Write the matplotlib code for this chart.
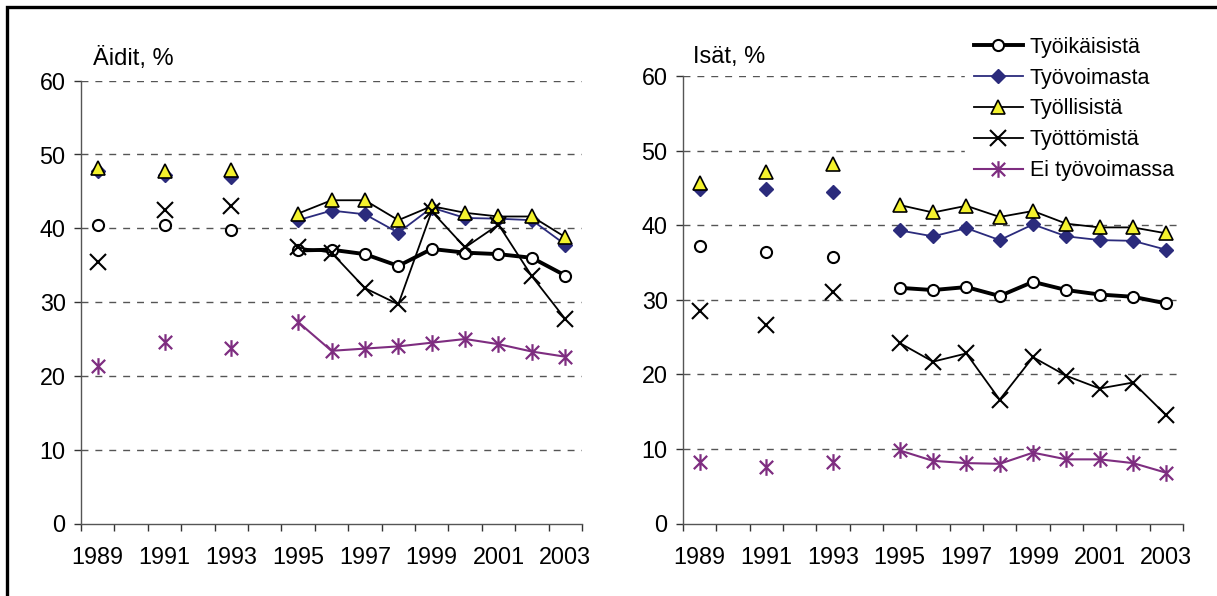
import numpy as np
import matplotlib
matplotlib.use('Agg')
import matplotlib.pyplot as plt
from matplotlib.path import Path
from matplotlib.patches import Rectangle

plt.rcParams['font.family'] = ['Liberation Sans', 'DejaVu Sans']

# categories 1989..2003, years without data are NaN
years = list(range(1989, 2004))
tick_years = [str(y) for y in range(1989, 2004, 2)]
nan = np.nan

series_names = ['Työikäisistä', 'Työvoimasta', 'Työllisistä', 'Työttömistä', 'Ei työvoimassa']

# Äidit (mothers), %
mothers_tyoikaisista = [40.5, nan, 40.4, nan, 39.8, nan, 37.0, 37.1, 36.5, 34.9, 37.2, 36.7, 36.5, 36.0, 33.6]
mothers_tyovoimasta = [47.8, nan, 47.2, nan, 47.0, nan, 41.1, 42.4, 41.9, 39.4, 42.8, 41.4, 41.3, 41.1, 37.8]
mothers_tyollisista = [48.2, nan, 47.7, nan, 47.9, nan, 42.0, 43.8, 43.8, 41.1, 43.0, 42.1, 41.6, 41.6, 38.8]
mothers_tyottomista = [35.4, nan, 42.5, nan, 43.0, nan, 37.4, 36.7, 31.9, 29.7, 42.3, 37.4, 40.5, 33.5, 27.7]
mothers_ei_tyovoimassa = [21.3, nan, 24.6, nan, 23.8, nan, 27.3, 23.4, 23.7, 24.0, 24.5, 25.0, 24.3, 23.3, 22.6]

# Isät (fathers), %
fathers_tyoikaisista = [37.2, nan, 36.4, nan, 35.7, nan, 31.6, 31.3, 31.7, 30.5, 32.4, 31.3, 30.7, 30.4, 29.5]
fathers_tyovoimasta = [44.8, nan, 44.9, nan, 44.4, nan, 39.3, 38.5, 39.6, 38.0, 40.1, 38.5, 38.0, 37.9, 36.7]
fathers_tyollisista = [45.6, nan, 47.1, nan, 48.2, nan, 42.7, 41.7, 42.6, 41.1, 41.9, 40.2, 39.7, 39.7, 38.9]
fathers_tyottomista = [28.5, nan, 26.6, nan, 31.0, nan, 24.2, 21.7, 22.8, 16.6, 22.3, 19.8, 18.1, 18.9, 14.5]
fathers_ei_tyovoimassa = [8.3, nan, 7.6, nan, 8.2, nan, 9.8, 8.4, 8.1, 8.0, 9.5, 8.6, 8.6, 8.1, 6.8]

NAVY = '#2B2B7C'
PURPLE = '#7E2D80'
YELLOW = '#F4F22E'

# asterisk marker as drawn by Excel: an X plus a vertical bar
star = Path([(-1, -1), (1, 1), (-1, 1), (1, -1), (0, -1.25), (0, 1.25)],
            [Path.MOVETO, Path.LINETO, Path.MOVETO, Path.LINETO, Path.MOVETO, Path.LINETO])

styles = [
    dict(color='black', lw=2.8, marker='o', ms=8, mfc='white', mec='black', mew=1.5, zorder=5),
    dict(color=NAVY, lw=1.3, marker='D', ms=7.3, mfc=NAVY, mec=NAVY, mew=1.0, zorder=3),
    dict(color='black', lw=1.3, marker='^', ms=10.5, mfc=YELLOW, mec='black', mew=1.2, zorder=4),
    dict(color='black', lw=1.3, marker='x', ms=11, mec='black', mew=1.5, zorder=6),
    dict(color=PURPLE, lw=1.5, marker=star, ms=12, mec=PURPLE, mew=1.6, zorder=4),
]

W, H = 1217, 596
fig = plt.figure(figsize=(W / 100, H / 100), dpi=100)

# outer frame (only top and left edges fall inside the picture)
fig.add_artist(Rectangle((7 / W, -0.2), 1.5, 1 - 7 / H + 0.2, transform=fig.transFigure,
                         fill=False, lw=2.4, ec='black'))

ax1 = fig.add_axes([81 / W, 1 - 523.5 / H, 501 / W, (523.5 - 80.7) / H])
ax2 = fig.add_axes([683 / W, 1 - 523.5 / H, 500 / W, (523.5 - 76) / H])

x = np.arange(len(years))
panels = [
    (ax1, [mothers_tyoikaisista, mothers_tyovoimasta, mothers_tyollisista,
           mothers_tyottomista, mothers_ei_tyovoimassa]),
    (ax2, [fathers_tyoikaisista, fathers_tyovoimasta, fathers_tyollisista,
           fathers_tyottomista, fathers_ei_tyovoimassa]),
]

for ax, data in panels:
    for name, vals, st in zip(series_names, data, styles):
        ax.plot(x, vals, label=name, clip_on=False, **st)
    ax.set_xlim(-0.5, len(years) - 0.5)
    ax.set_ylim(0, 60)
    ax.set_yticks(range(0, 61, 10))
    ax.set_xticks(x[::2])
    ax.set_xticklabels(tick_years)
    ax.set_xticks(np.arange(-0.5, len(years)), minor=True)
    ax.tick_params(axis='x', which='major', length=0, pad=16, labelsize=16.8)
    ax.tick_params(axis='x', which='minor', length=5, width=1, color='#333333', direction='out')
    ax.tick_params(axis='y', length=5, width=1, color='#333333', pad=6, labelsize=16.8)
    for y in range(10, 61, 10):
        ax.axhline(y, color='#555555', lw=1, ls=(0, (5, 5)), zorder=1)
    for s in ['top', 'right']:
        ax.spines[s].set_visible(False)
    for s in ['left', 'bottom']:
        ax.spines[s].set_color('#555555')
        ax.spines[s].set_linewidth(1)

fig.text(93 / W, 1 - 65 / H, 'Äidit, %', fontsize=17, va='baseline', ha='left')
fig.text(693 / W, 1 - 63 / H, 'Isät, %', fontsize=17, va='baseline', ha='left')

leg = ax2.legend(loc='upper left', bbox_to_anchor=(965 / W, 1 - 28 / H),
                 bbox_transform=fig.transFigure, frameon=True, fancybox=False,
                 facecolor='white', edgecolor='white', framealpha=1,
                 fontsize=15.5, numpoints=1, handlelength=2.3, handletextpad=0.3,
                 labelspacing=0.46, borderpad=0.4, borderaxespad=0)
leg.set_zorder(10)

fig.savefig('out.png', dpi=100)
